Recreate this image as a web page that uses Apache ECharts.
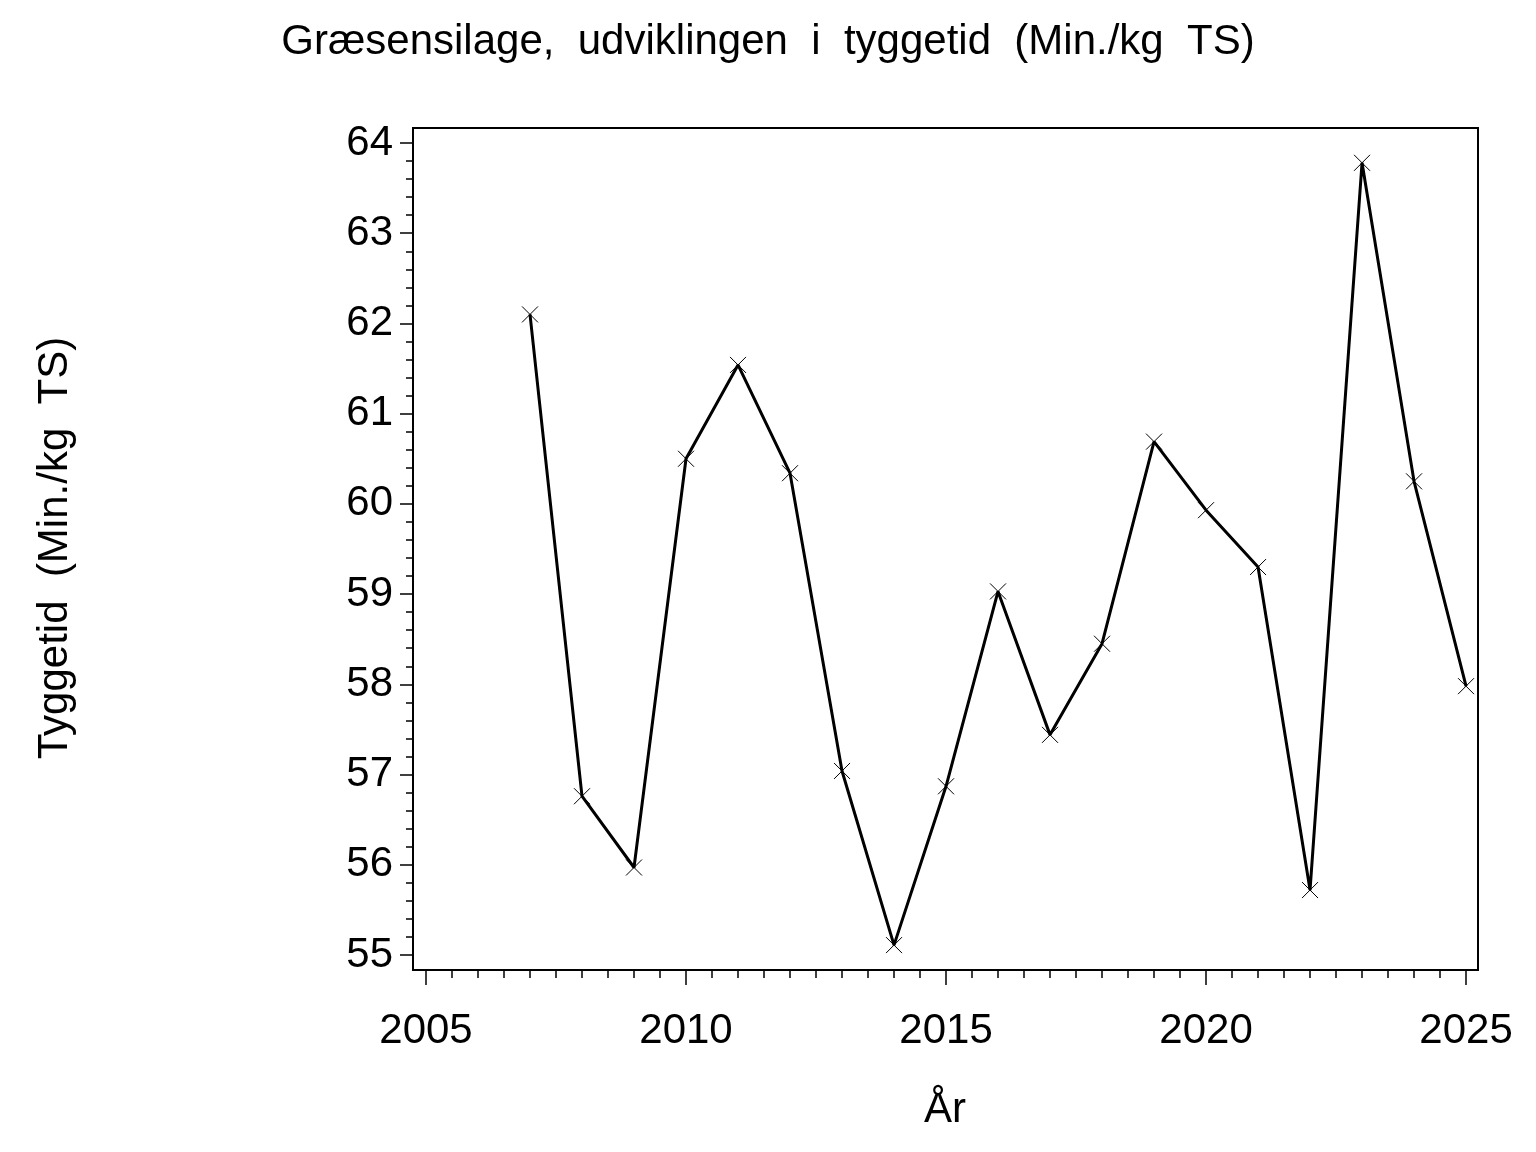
<!DOCTYPE html>
<html>
<head>
<meta charset="utf-8">
<script src="https://cdn.jsdelivr.net/npm/echarts@6/dist/echarts.min.js"></script>
<style>html,body{margin:0;padding:0;background:#fff}#c{width:1536px;height:1152px}</style>
</head>
<body>
<div id="c"></div>
<script>
const years = [2007,2008,2009,2010,2011,2012,2013,2014,2015,2016,2017,2018,2019,2020,2021,2022,2023,2024,2025];
const values = [62.10,56.76,55.97,60.50,61.54,60.34,57.04,55.11,56.87,59.03,57.44,58.45,60.69,59.93,59.30,55.72,63.78,60.25,57.98];
const xTicks = [2005,2010,2015,2020,2025];
const yTicks = [55,56,57,58,59,60,61,62,63,64];
const xMinor = [];
for (let v = 2005; v <= 2025.001; v += 0.5) xMinor.push(+v.toFixed(1));
const yMinor = [];
for (let v = 55; v <= 64.001; v += 0.2) yMinor.push(+v.toFixed(1));
const titleText = 'Græsensilage,  udviklingen  i  tyggetid  (Min./kg  TS)';
const yTitle = 'Tyggetid  (Min./kg  TS)';
const xTitle = 'År';

const font = '"Liberation Sans", Arial, sans-serif';
const chart = echarts.init(document.getElementById('c'));
const XMIN = 2004.75, XMAX = 2025.23, YMIN = 54.834, YMAX = 64.166;
chart.setOption({
  animation: false,
  backgroundColor: '#fff',
  title: {
    text: titleText, left: 'center', top: 16,
    textStyle: {fontFamily: font, fontSize: 42, fontWeight: 'normal', color: '#000'}
  },
  grid: {left: 413, right: 58, top: 128, bottom: 182, show: true, borderColor: '#000', borderWidth: 2},
  xAxis: [{
    type: 'value', min: XMIN, max: XMAX, position: 'bottom',
    axisLine: {show: true, lineStyle: {color: '#000', width: 2}},
    axisTick: {show: true, customValues: xTicks, length: 15, lineStyle: {color: '#000', width: 1.5}},
    axisLabel: {customValues: xTicks, margin: 40, fontFamily: font, fontSize: 42, color: '#000', formatter: v => String(v)},
    splitLine: {show: false}
  }, {
    type: 'value', min: XMIN, max: XMAX, position: 'bottom',
    axisLine: {show: false},
    axisTick: {show: true, customValues: xMinor, length: 8, lineStyle: {color: '#000', width: 1.5}},
    axisLabel: {show: false},
    splitLine: {show: false}
  }],
  yAxis: [{
    type: 'value', min: YMIN, max: YMAX, position: 'left',
    axisLine: {show: true, lineStyle: {color: '#000', width: 2}},
    axisTick: {show: true, customValues: yTicks, length: 13, lineStyle: {color: '#000', width: 1.5}},
    axisLabel: {customValues: yTicks, margin: 20, padding: [6, 0, 0, 0], fontFamily: font, fontSize: 42, color: '#000', formatter: v => String(v)},
    splitLine: {show: false}
  }, {
    type: 'value', min: YMIN, max: YMAX, position: 'left',
    axisLine: {show: false},
    axisTick: {show: true, customValues: yMinor, length: 7, lineStyle: {color: '#000', width: 1.5}},
    axisLabel: {show: false},
    splitLine: {show: false}
  }],
  graphic: [{
    type: 'text',
    x: 945, y: 1110,
    style: {text: xTitle, fontFamily: font, fontSize: 42, fill: '#000', align: 'center', verticalAlign: 'middle'}
  }, {
    type: 'text',
    x: 55, y: 548, rotation: Math.PI / 2,
    style: {text: yTitle, fontFamily: font, fontSize: 42, fill: '#000', align: 'center', verticalAlign: 'middle'}
  }],
  series: [{
    type: 'line',
    data: years.map((y, i) => [y, values[i]]),
    xAxisIndex: 0, yAxisIndex: 0,
    lineStyle: {color: '#000', width: 3},
    symbol: 'path://M0,0L10,10M10,0L0,10',
    symbolSize: 16,
    showAllSymbol: true,
    itemStyle: {color: 'none', borderColor: '#000', borderWidth: 1},
    emphasis: {disabled: true}
  }]
});
</script>
</body>
</html>
